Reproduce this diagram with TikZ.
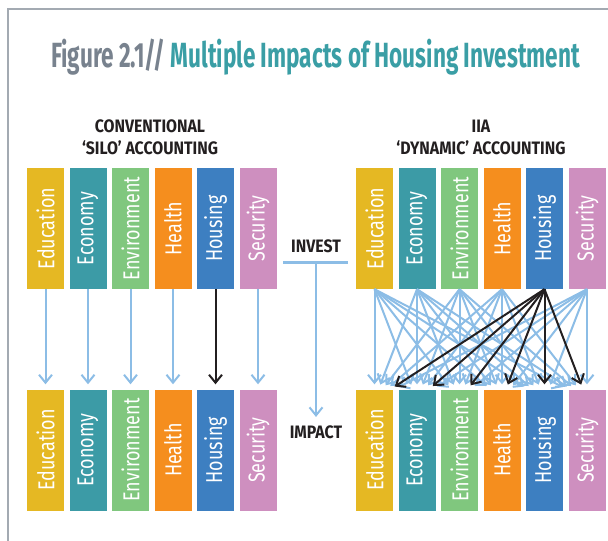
\documentclass[tikz,border=0pt]{standalone}
\usepackage{fontspec}
\setmainfont{Fira Sans}
\newfontfamily\titlefont[FakeStretch=0.645]{Fira Sans}
\newfontfamily\headfont[FakeStretch=0.88]{Fira Sans}
\newfontfamily\boxfont[FakeStretch=0.78]{Fira Sans}
\usepackage{graphicx}
\usepackage{tikz}
\usetikzlibrary{calc,positioning,arrows.meta}
\usepackage{xcolor}
\definecolor{edu}{HTML}{E5B823}
\definecolor{eco}{HTML}{3C9BA6}
\definecolor{env}{HTML}{80C77E}
\definecolor{hea}{HTML}{F58E1E}
\definecolor{hou}{HTML}{3D7FC1}
\definecolor{sec}{HTML}{CE8FBF}
\definecolor{flowblue}{HTML}{8CBDE6}
\definecolor{inkblack}{HTML}{231F20}
\definecolor{titlegray}{HTML}{78828E}
\definecolor{titleteal}{HTML}{3A9EA5}
\definecolor{framegray}{HTML}{A3AAB2}

\begin{document}
\begin{tikzpicture}[x=1pt, y=-1pt, hd/.style={font=\headfont\bfseries\fontsize{18}{22}\selectfont, text=inkblack, align=center}]
\tikzstyle{sector}=[rectangle, inner sep=0pt, minimum width=37pt, minimum height=121pt, text=white, font=\boxfont\fontsize{23}{23}\selectfont]
\tikzstyle{flow}=[flowblue, line width=2pt, -{Straight Barb[length=8pt,width=13pt]}, shorten >=5pt]
\tikzstyle{hflow}=[flow, inkblack]
\useasboundingbox (0,0) rectangle (608,541);
\draw[framegray, line width=1.5pt] (8,541) -- (8,9) -- (608,9);
\node[anchor=base west, inner sep=0pt, font=\titlefont\bfseries\fontsize{35}{35}\selectfont] (title) at (51,67) {\textcolor{titlegray}{Figure 2.1//} \textcolor{titleteal}{Multiple Impacts of Housing Investment}};
\node[hd] (silo) at (150,137) {CONVENTIONAL\\‘SILO’ ACCOUNTING};
\node[hd] (dyn) at (481,137) {IIA\\‘DYNAMIC’ ACCOUNTING};
% the four rows of sectors
\foreach \s/\c [count=\i from 0] in {Education/edu,Economy/eco,Environment/env,Health/hea,Housing/hou,Security/sec}{
  \node[sector, fill=\c] (silotop\i) at ({45.5+42.5*\i},228.5) {\rotatebox{90}{\s}};
  \node[sector, fill=\c] (silobot\i) at ({45.5+42.5*\i},450) {\rotatebox{90}{\s}};
  \node[sector, fill=\c] (dyntop\i) at ({374.5+42.5*\i},228.5) {\rotatebox{90}{\s}};
  \node[sector, fill=\c] (dynbot\i) at ({374.5+42.5*\i},450) {\rotatebox{90}{\s}};
}
% invest -> impact
\node[hd] (invest) at (316,246) {INVEST};
\node[hd] (impact) at (316,432) {IMPACT};
\coordinate (barL) at (283,262);
\coordinate (barR) at (348,262);
\coordinate (barM) at (316,262);
\draw[flowblue, line width=3pt] (barL) -- (barR);
\draw[flow] (barM) -- (impact);
% silo: one arrow each
\foreach \i/\f in {0/flow,1/flow,2/flow,3/flow,4/hflow,5/flow}{\draw[\f] (silotop\i.south) -- (silobot\i.north);}
% dynamic: every sector to every sector
\foreach \i/\f in {0/flow,1/flow,2/flow,3/flow,5/flow,4/hflow}{
  \foreach \j in {0,...,5}{\draw[\f] (dyntop\i.south) -- ($(dynbot\j.north)+({4*(\i-\j)},0)$);}
}
\end{tikzpicture}
\end{document}
